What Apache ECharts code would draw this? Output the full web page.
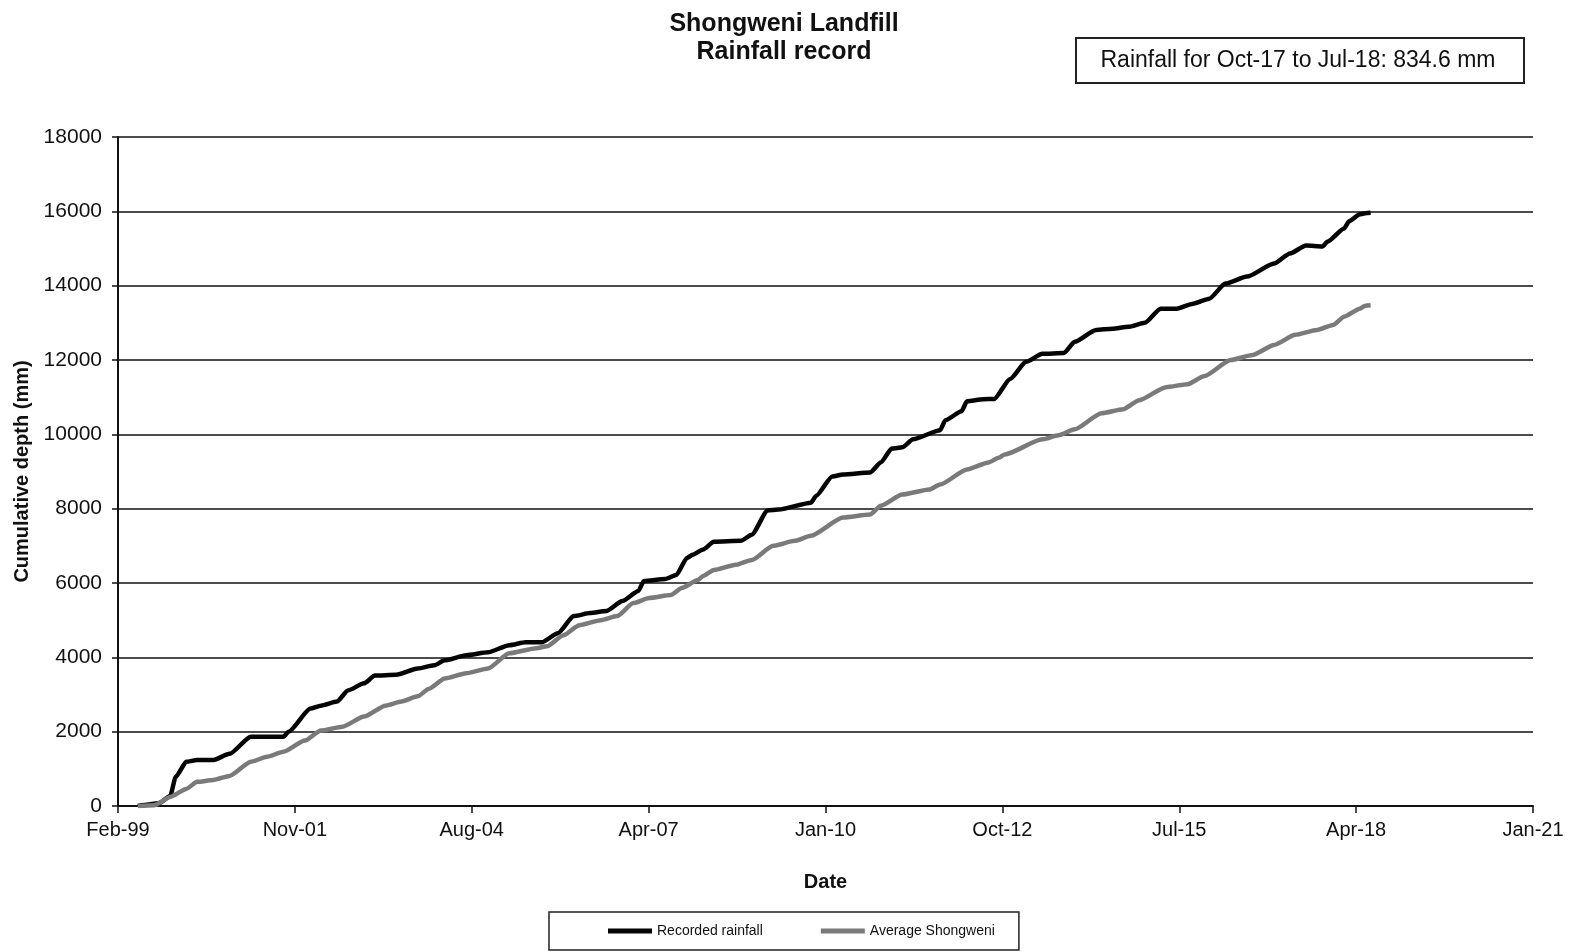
<!DOCTYPE html>
<html>
<head>
<meta charset="utf-8">
<script src="https://cdn.jsdelivr.net/npm/echarts@6/dist/echarts.min.js"></script>
<style>
html,body{margin:0;padding:0;background:#fff;overflow:hidden;}
#chart{width:1574px;height:952px;}
</style>
</head>
<body>
<div id="chart"></div>
<script>
// ---- Data ----
var titleLines = ["Shongweni Landfill", "Rainfall record"];
var noteText = "Rainfall for Oct-17 to Jul-18: 834.6 mm";
var seriesNames = ["Recorded rainfall", "Average Shongweni"];

var recordedDates = ["1999-06","1999-08","1999-10","1999-12","2000-01","2000-03","2000-05","2000-08","2000-11",
  "2001-03","2001-09","2001-10","2002-02","2002-04","2002-07","2002-09","2002-12","2003-02","2003-06","2003-10",
  "2004-01","2004-03","2004-07","2004-11","2005-03","2005-06","2005-09","2005-12","2006-03","2006-06","2006-09",
  "2006-12","2007-03","2007-04","2007-08","2007-10","2007-12","2008-01","2008-03","2008-05","2008-10","2008-12",
  "2009-03","2009-05","2009-11","2009-12","2010-03","2010-05","2010-10","2010-12","2011-02","2011-04","2011-06",
  "2011-11","2011-12","2012-03","2012-04","2012-07","2012-09","2012-12","2013-03","2013-06","2013-10","2013-12",
  "2014-04","2014-07","2014-10","2015-01","2015-04","2015-07","2015-10","2016-01","2016-04","2016-08","2017-01",
  "2017-04","2017-07","2017-10","2017-11","2018-02","2018-03","2018-05","2018-06","2018-07"];
var recordedValues = [0,40,80,270,780,1190,1240,1240,1405,
  1865,1865,2000,2620,2700,2810,3110,3300,3510,3530,3700,
  3785,3920,4055,4135,4325,4405,4405,4650,5110,5190,5245,
  5515,5785,6055,6110,6215,6675,6760,6900,7110,7135,7300,
  7950,7975,8160,8350,8865,8920,8975,9245,9620,9650,9865,
  10110,10380,10620,10890,10945,10950,11490,11950,12165,12190,12490,
  12810,12840,12895,13000,13380,13380,13515,13650,14055,14245,14595,
  14865,15080,15055,15190,15540,15730,15920,15950,15960];

var averageDates = ["1999-06","1999-09","1999-12","2000-03","2000-05","2000-08","2000-11","2001-03","2001-06",
  "2001-09","2002-01","2002-04","2002-08","2002-12","2003-04","2003-07","2003-10","2003-12","2004-03","2004-07",
  "2004-11","2005-03","2005-08","2005-10","2006-01","2006-04","2006-08","2006-11","2007-02","2007-05","2007-09",
  "2007-11","2008-02","2008-03","2008-05","2008-09","2008-12","2009-04","2009-08","2009-11","2010-05","2010-10",
  "2010-12","2011-04","2011-09","2011-11","2012-04","2012-08","2012-10","2012-11","2013-06","2013-09","2013-12",
  "2014-05","2014-09","2014-12","2015-05","2015-09","2015-12","2016-05","2016-09","2017-01","2017-05","2017-09",
  "2017-12","2018-02","2018-05","2018-06","2018-07"];
var averageValues = [0,20,245,460,650,700,810,1190,1325,
  1460,1760,2030,2135,2405,2700,2810,2950,3150,3430,3570,
  3700,4110,4245,4300,4595,4865,5000,5110,5460,5595,5675,
  5865,6080,6190,6350,6490,6620,7000,7135,7270,7760,7840,
  8080,8380,8515,8650,9055,9245,9380,9460,9865,9975,10135,
  10570,10675,10920,11270,11350,11560,12000,12135,12405,12680,12810,
  12945,13165,13380,13460,13470];

var yTicks = {min: 0, max: 18000, interval: 2000};
// x axis in Excel day serials: first tick 36200 (Feb-99), last 44200 (Jan-21), every 1000 days
var xBaseSerial = 36200, xSpanDays = 8000, xStepDays = 1000;

// ---- Helpers ----
var MONTHS = ["Jan","Feb","Mar","Apr","May","Jun","Jul","Aug","Sep","Oct","Nov","Dec"];
function dayOffset(ym){
  var p = ym.split("-");
  var serial = Date.UTC(+p[0], +p[1]-1, 1)/86400000 + 25569;
  return serial - xBaseSerial;
}
function fmtTick(v){
  var d = new Date((v + xBaseSerial - 25569)*86400000);
  var yy = String(d.getUTCFullYear()%100); if (yy.length<2) yy = "0"+yy;
  return MONTHS[d.getUTCMonth()] + "-" + yy;
}
function pairs(dates, vals){ return dates.map(function(d,i){ return [dayOffset(d), vals[i]]; }); }

var FONT = "Liberation Sans, Arial, sans-serif";
var chart = echarts.init(document.getElementById("chart"), null, {renderer: "canvas"});
chart.setOption({
  backgroundColor: "#fff",
  animation: false,
  title: {
    text: titleLines.join("\n"),
    left: 779, textAlign: "center", top: 5,
    textStyle: {fontFamily: FONT, fontWeight: "bold", fontSize: 25, lineHeight: 28, color: "#111"}
  },
  legend: {
    left: 549, top: 912,
    padding: [12, 24, 12, 59],
    itemGap: 58,
    itemWidth: 44, itemHeight: 5, icon: "rect",
    borderColor: "#222", borderWidth: 1.5,
    textStyle: {fontFamily: FONT, fontSize: 14, color: "#111"},
    data: seriesNames
  },
  graphic: [{
    type: "group", left: 1075, top: 37,
    children: [
      {type: "rect", shape: {x: 0, y: 0, width: 448, height: 45}, style: {fill: "#fff", stroke: "#222", lineWidth: 2}},
      {type: "text", x: 222, y: 23, style: {text: noteText, fill: "#111", font: "23px " + FONT, textAlign: "center", textVerticalAlign: "middle"}}
    ]
  }],
  grid: {left: 118, right: 41, top: 137, bottom: 146},
  xAxis: {
    type: "value", min: 0, max: xSpanDays, interval: xStepDays,
    name: "Date", nameLocation: "middle", nameGap: 66,
    nameTextStyle: {fontFamily: FONT, fontWeight: "bold", fontSize: 20, color: "#111"},
    axisLine: {lineStyle: {color: "#111", width: 2}},
    axisTick: {show: true, length: 7, lineStyle: {color: "#111", width: 1.5}},
    axisLabel: {formatter: fmtTick, fontFamily: FONT, fontSize: 20, color: "#111", margin: 14},
    splitLine: {show: false}
  },
  yAxis: {
    type: "value", min: yTicks.min, max: yTicks.max, interval: yTicks.interval,
    name: "Cumulative depth (mm)", nameLocation: "middle", nameGap: 84,
    nameTextStyle: {fontFamily: FONT, fontWeight: "bold", fontSize: 20, color: "#111"},
    axisLine: {show: true, lineStyle: {color: "#111", width: 2}},
    axisTick: {show: true, length: 6, lineStyle: {color: "#111", width: 1.5}},
    axisLabel: {formatter: function(v){ return String(v); }, fontFamily: FONT, fontSize: 21, color: "#111", margin: 16},
    splitLine: {show: true, lineStyle: {color: "#111", width: 1.5}}
  },
  series: [
    {name: seriesNames[0], type: "line", data: pairs(recordedDates, recordedValues),
     showSymbol: false, symbol: "none", smooth: 0.2, smoothMonotone: "x",
     lineStyle: {color: "#050505", width: 4.5}, itemStyle: {color: "#050505"}},
    {name: seriesNames[1], type: "line", data: pairs(averageDates, averageValues),
     showSymbol: false, symbol: "none", smooth: 0.2, smoothMonotone: "x",
     lineStyle: {color: "#7a7a7a", width: 4.5}, itemStyle: {color: "#7a7a7a"}}
  ]
});
</script>
</body>
</html>
